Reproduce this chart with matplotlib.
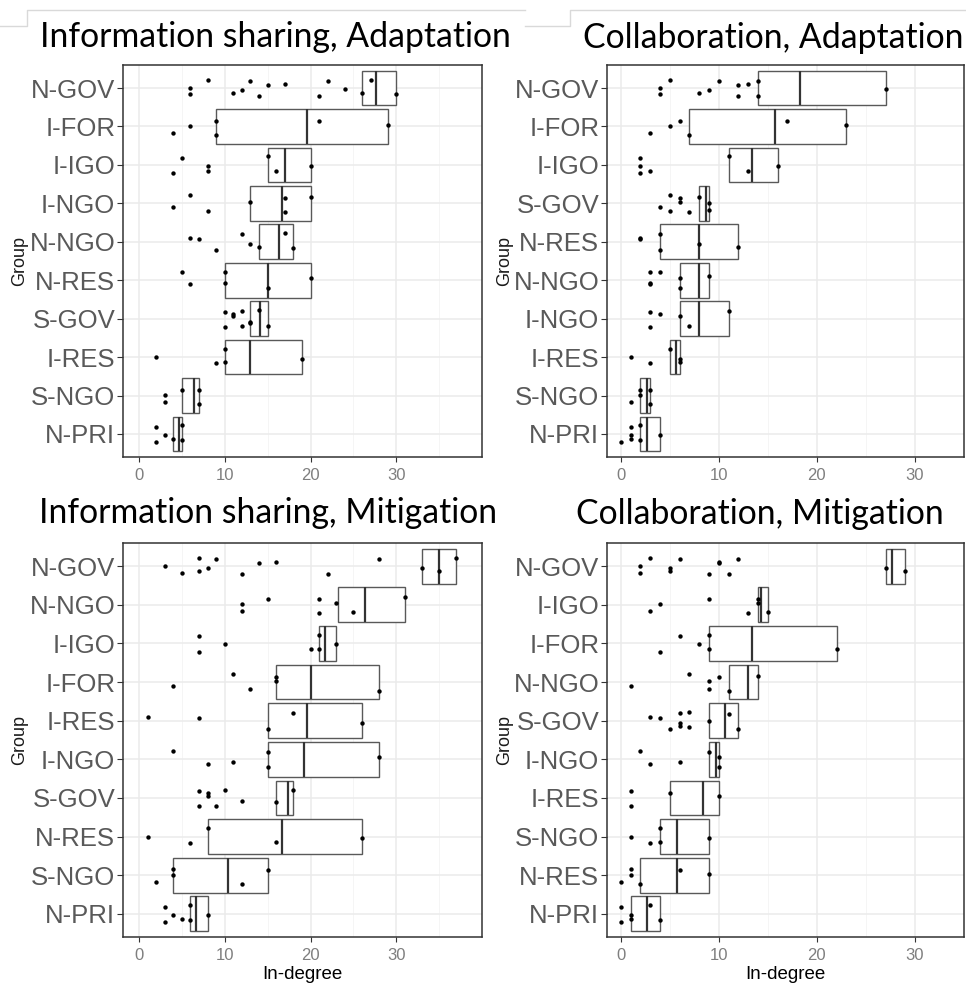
import numpy as np
import matplotlib.pyplot as plt
from matplotlib.lines import Line2D

# Information sharing, Adaptation
isa_groups = ['N-GOV', 'I-FOR', 'I-IGO', 'I-NGO', 'N-NGO', 'N-RES', 'S-GOV', 'I-RES', 'S-NGO', 'N-PRI']
isa_low = [26, 9, 15, 13, 14, 10, 13, 10, 5, 4]
isa_mid = [27.6, 19.6, 17, 16.7, 16.3, 15, 14.1, 13, 6.4, 4.7]
isa_high = [30, 29, 20, 20, 18, 20, 15, 19, 7, 5]
isa_points = [
    [6, 6, 8, 11, 12, 13, 14, 15, 17, 21, 22, 24, 26, 27, 30],
    [4, 6, 9, 9, 21, 29],
    [4, 5, 8, 8, 15, 16, 20],
    [4, 6, 8, 13, 17, 17, 20],
    [6, 7, 9, 12, 13, 14, 17, 18],
    [5, 6, 10, 10, 15, 20],
    [10, 10, 11, 11, 12, 12, 13, 13, 14, 15],
    [2, 9, 10, 10, 19],
    [3, 3, 5, 7, 7],
    [2, 2, 3, 4, 5, 5],
]

# Collaboration, Adaptation
ca_groups = ['N-GOV', 'I-FOR', 'I-IGO', 'S-GOV', 'N-RES', 'N-NGO', 'I-NGO', 'I-RES', 'S-NGO', 'N-PRI']
ca_low = [14, 7, 11, 8, 4, 6, 6, 5, 2, 2]
ca_mid = [18.3, 15.7, 13.4, 8.7, 8, 8, 8, 5.6, 2.7, 2.7]
ca_high = [27, 23, 16, 9, 12, 9, 11, 6, 3, 4]
ca_points = [
    [4, 4, 5, 8, 9, 10, 12, 12, 13, 14, 14, 27],
    [3, 5, 6, 7, 17, 23],
    [2, 2, 2, 3, 11, 13, 16],
    [4, 5, 5, 6, 6, 7, 8, 9, 9],
    [2, 2, 4, 4, 8, 12],
    [3, 3, 3, 4, 6, 6, 9],
    [3, 3, 4, 6, 7, 11],
    [1, 3, 5, 6, 6],
    [1, 2, 2, 3, 3],
    [0, 1, 1, 1, 2, 2, 4],
]

# Information sharing, Mitigation
ism_groups = ['N-GOV', 'N-NGO', 'I-IGO', 'I-FOR', 'I-RES', 'I-NGO', 'S-GOV', 'N-RES', 'S-NGO', 'N-PRI']
ism_low = [33, 23.2, 21, 16, 15, 15, 16, 8, 4, 6]
ism_mid = [35, 26.4, 21.7, 20, 19.6, 19.2, 17.4, 16.7, 10.4, 6.6]
ism_high = [37, 31, 23, 28, 26, 28, 18, 26, 15, 8]
ism_points = [
    [3, 5, 7, 7, 8, 9, 12, 14, 16, 22, 28, 33, 35, 37],
    [12, 12, 15, 21, 21, 23, 25, 31],
    [7, 7, 10, 20, 21, 21, 23],
    [4, 11, 13, 16, 16, 28],
    [1, 7, 15, 18, 26],
    [4, 8, 11, 15, 15, 28],
    [7, 7, 8, 8, 9, 10, 12, 16, 18],
    [1, 6, 8, 16, 26],
    [2, 4, 4, 12, 15],
    [3, 3, 4, 5, 6, 6, 8],
]

# Collaboration, Mitigation
cm_groups = ['N-GOV', 'I-IGO', 'I-FOR', 'N-NGO', 'S-GOV', 'I-NGO', 'I-RES', 'S-NGO', 'N-RES', 'N-PRI']
cm_low = [27, 14, 9, 11, 9, 9, 5, 4, 2, 1]
cm_mid = [27.7, 14.3, 13.4, 13, 10.6, 9.7, 8.4, 5.7, 5.7, 2.7]
cm_high = [29, 15, 22, 14, 12, 10, 10, 9, 9, 4]
cm_points = [
    [2, 2, 3, 5, 5, 6, 9, 10, 10, 11, 12, 27, 29],
    [3, 4, 9, 13, 14, 14, 15],
    [4, 6, 8, 9, 9, 22],
    [1, 7, 9, 9, 10, 11, 14],
    [3, 4, 5, 6, 6, 6, 7, 7, 9, 11, 12],
    [2, 3, 6, 9, 10, 10],
    [1, 1, 5, 10],
    [1, 3, 4, 4, 9],
    [0, 1, 1, 2, 6, 9],
    [0, 0, 1, 1, 3, 4],
]

W, H = 966, 986
fig = plt.figure(figsize=(W / 100, H / 100), dpi=100)

TICK_FONT = 'Liberation Sans'
TITLE_FONT = 'Lato'


def px_axes(x0, y0, x1, y1):
    return fig.add_axes([x0 / W, 1 - y1 / H, (x1 - x0) / W, (y1 - y0) / H])


def panel(box, title, title_xy, groups, low, mid, high, points, xlim, xlabel, group_x):
    ax = px_axes(*box)
    n = len(groups)
    ypos = np.arange(n)
    ax.set_xlim(*xlim)
    ax.set_ylim(n - 0.4, -0.6)
    ax.set_xticks([0, 10, 20, 30])
    ax.set_xticks([5, 15, 25, 35], minor=True)
    ax.set_yticks(ypos)
    ax.set_yticklabels(groups, fontsize=18.5, color='#595959', family=TICK_FONT)
    ax.grid(which='major', color='#EBEBEB', lw=1.1, zorder=0)
    ax.grid(which='minor', axis='x', color='#F4F4F4', lw=0.6, zorder=0)
    ax.set_axisbelow(True)
    ax.tick_params(axis='x', which='major', length=3.5, width=0.8, color='#333333',
                   labelsize=12, labelcolor='#7F7F7F', pad=4.5)
    ax.tick_params(axis='x', which='minor', length=0)
    ax.tick_params(axis='y', length=4.5, width=0.8, color='#333333', pad=1)
    for lab in ax.get_xticklabels():
        lab.set_family(TICK_FONT)
    for s in ax.spines.values():
        s.set_color('#333333')
        s.set_linewidth(1.1)

    widths = np.array(high) - np.array(low)
    ax.barh(ypos, widths, left=low, height=0.9, color='white',
            edgecolor='#595959', linewidth=1.0, zorder=2)
    ax.vlines(mid, ypos - 0.45, ypos + 0.45, color='#333333', lw=1.6, zorder=3)
    for i, vals in enumerate(points):
        k = np.arange(len(vals))
        off = 0.22 * np.sin(k * 2.3 + i * 0.9)
        ax.scatter(vals, i + off, s=10, color='black', lw=0, zorder=4)

    if xlabel:
        ax.set_xlabel(xlabel, fontsize=13.5, family=TICK_FONT, labelpad=2)
    cy = (box[1] + box[3]) / 2
    fig.text(group_x / W, 1 - cy / H, 'Group', rotation=90, ha='center', va='center',
             fontsize=13, family=TICK_FONT, color='#1A1A1A')
    fig.text(title_xy[0] / W, 1 - title_xy[1] / H, title, ha='center', va='center',
             fontsize=24.3, family=TITLE_FONT)
    return ax


panel((123, 65, 482, 457), 'Information sharing, Adaptation', (275, 37),
      isa_groups, isa_low, isa_mid, isa_high, isa_points, (-1.87, 40.0), None, 20)
panel((607, 65, 964, 457), 'Collaboration, Adaptation', (773, 38),
      ca_groups, ca_low, ca_mid, ca_high, ca_points, (-1.4, 31.6), None, 505)
panel((123, 543, 482, 937), 'Information sharing, Mitigation', (268, 513),
      ism_groups, ism_low, ism_mid, ism_high, ism_points, (-1.87, 40.0), 'In-degree', 20)
panel((607, 543, 964, 937), 'Collaboration, Mitigation', (760, 514),
      cm_groups, cm_low, cm_mid, cm_high, cm_points, (-1.4, 31.6), 'In-degree', 505)

# thin frame edges of the pasted images at the top
for xs, ys in [([0, 27, 27, 525], [26, 26, 10, 10]), ([525, 570, 570, 966], [26, 26, 10, 10])]:
    fig.add_artist(Line2D(np.array(xs) / W, 1 - np.array(ys) / H, color='#D9D9D9', lw=1))

fig.savefig('out.png', dpi=100)
